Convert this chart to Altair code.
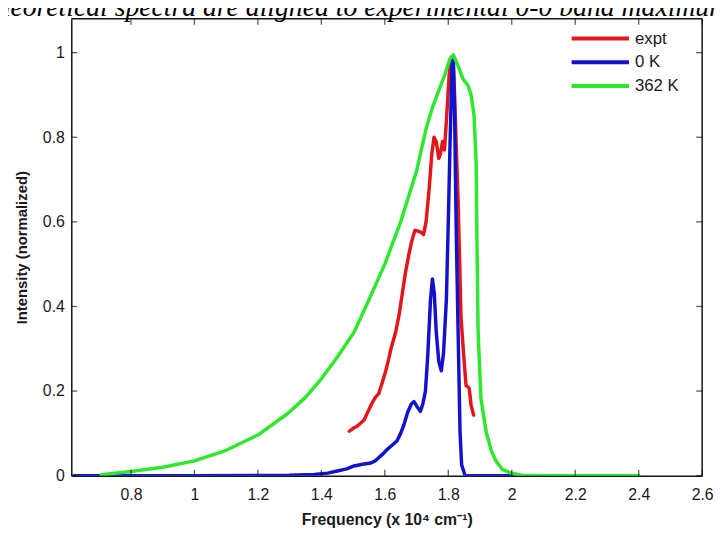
import altair as alt
import pandas as pd

series_names = ["expt", "0 K", "362 K"]
series_colors = ["#e2171c", "#1212cc", "#2de82d"]

expt_x = [1.488, 1.50, 1.513, 1.525, 1.534, 1.545, 1.556, 1.57, 1.581, 1.592, 1.603, 1.612,
          1.619, 1.634, 1.645, 1.655, 1.665, 1.675, 1.685, 1.695, 1.705, 1.715, 1.722, 1.73,
          1.74, 1.748, 1.755, 1.762, 1.77, 1.775, 1.782, 1.788, 1.795, 1.803, 1.81, 1.815,
          1.82, 1.825, 1.831, 1.836, 1.84, 1.848, 1.856, 1.862, 1.866, 1.872, 1.88]
expt_y = [0.105, 0.112, 0.117, 0.125, 0.131, 0.148, 0.166, 0.185, 0.194, 0.22, 0.248, 0.275,
          0.299, 0.339, 0.38, 0.43, 0.48, 0.52, 0.555, 0.58, 0.578, 0.575, 0.57, 0.6,
          0.68, 0.76, 0.8, 0.79, 0.75, 0.76, 0.79, 0.77, 0.85, 0.95, 0.99, 0.98,
          0.9, 0.78, 0.65, 0.5, 0.376, 0.29, 0.213, 0.21, 0.206, 0.166, 0.143]

k0_x = [0.62, 1.0, 1.3, 1.378, 1.42, 1.45, 1.48, 1.503, 1.53, 1.556, 1.57, 1.58, 1.595,
        1.606, 1.62, 1.638, 1.65, 1.66, 1.672, 1.684, 1.692, 1.70, 1.712, 1.72, 1.728,
        1.735, 1.744, 1.75, 1.756, 1.762, 1.77, 1.778, 1.785, 1.79, 1.794, 1.80, 1.806,
        1.812, 1.816, 1.82, 1.825, 1.831, 1.837, 1.842, 1.853, 1.9, 2.0, 2.2, 2.4]
k0_y = [0.0, 0.0, 0.001, 0.003, 0.006, 0.011, 0.016, 0.023, 0.027, 0.03, 0.035, 0.042, 0.052,
        0.061, 0.07, 0.082, 0.1, 0.12, 0.15, 0.17, 0.175, 0.165, 0.152, 0.17, 0.2,
        0.28, 0.416, 0.465, 0.43, 0.34, 0.27, 0.248, 0.29, 0.36, 0.416, 0.6, 0.8,
        0.97, 0.99, 0.85, 0.58, 0.339, 0.105, 0.026, 0.0, 0.0, 0.0, 0.0, 0.0]

k362_x = [0.706, 0.8, 0.9, 1.0, 1.1, 1.2, 1.294, 1.35, 1.4, 1.45, 1.503, 1.55, 1.6, 1.65,
          1.7, 1.73, 1.75, 1.77, 1.79, 1.805, 1.816, 1.83, 1.847, 1.862, 1.872, 1.881,
          1.888, 1.89, 1.894, 1.903, 1.919, 1.935, 1.95, 1.97, 1.994, 2.03, 2.1, 2.4]
k362_y = [0.002, 0.01, 0.02, 0.035, 0.06, 0.096, 0.147, 0.185, 0.229, 0.28, 0.339, 0.416, 0.5, 0.6,
          0.72, 0.82, 0.87, 0.91, 0.95, 0.985, 0.995, 0.97, 0.937, 0.923, 0.90, 0.853,
          0.736, 0.58, 0.339, 0.182, 0.105, 0.06, 0.035, 0.015, 0.007, 0.001, 0.0, 0.0]

x_ticks = [0.8, 1.0, 1.2, 1.4, 1.6, 1.8, 2.0, 2.2, 2.4, 2.6]
y_ticks = [0.0, 0.2, 0.4, 0.6, 0.8, 1.0]
x_domain = [0.612, 2.6]
y_domain = [0.0, 1.08]

title_text = "theoretical spectra are aligned to experimental 0-0 band maximum"
x_title = "Frequency (x 10⁴ cm⁻¹)"
y_title = "Intensity (normalized)"

W, H = 638, 462
FONT = "Liberation Sans"
INK = "#151515"

xs = alt.Scale(domain=x_domain, nice=False, zero=False)
ys = alt.Scale(domain=y_domain, nice=False, zero=False)

x_axis = alt.Axis(values=x_ticks, title=x_title, tickSize=0, domain=True,
                  domainColor=INK, domainWidth=1.5, grid=False,
                  labelFontSize=16, labelFont=FONT, labelColor="#1a1a1a", labelPadding=11,
                  labelFlush=False, labelOverlap=False, format="~g",
                  titleFontSize=16, titleFont=FONT, titleFontWeight="bold",
                  titleColor="#1a1a1a", titlePadding=9)
y_axis = alt.Axis(values=y_ticks, title=y_title, tickSize=0, domain=True,
                  domainColor=INK, domainWidth=1.5, grid=False,
                  labelFontSize=16, labelFont=FONT, labelColor="#1a1a1a", labelPadding=7,
                  labelFlush=False, labelOverlap=False, format="~g",
                  titleFontSize=15, titleFont=FONT, titleFontWeight="bold",
                  titleColor="#1a1a1a", titlePadding=13)


def line_layer(xv, yv, color):
    df = pd.DataFrame({"f": xv, "v": yv, "k": list(range(len(xv)))})
    return alt.Chart(df).mark_line(color=color, strokeWidth=3.5, clip=True,
                                   strokeJoin="round", strokeCap="round").encode(
        x=alt.X("f:Q", scale=xs, axis=x_axis),
        y=alt.Y("v:Q", scale=ys, axis=y_axis),
        order="k:Q",
    )


layers = [
    line_layer(expt_x, expt_y, series_colors[0]),
    line_layer(k0_x, k0_y, series_colors[1]),
    line_layer(k362_x, k362_y, series_colors[2]),
]

# plot box: top and right edges (left/bottom come from the axis domains)
box = pd.DataFrame({"x0": [x_domain[0]], "x1": [x_domain[1]],
                    "y0": [y_domain[0]], "y1": [y_domain[1]]})
layers.append(alt.Chart(box).mark_rule(color=INK, strokeWidth=1.5).encode(
    x=alt.X("x0:Q", scale=xs, axis=x_axis), x2="x1:Q",
    y=alt.Y("y1:Q", scale=ys, axis=y_axis)))
layers.append(alt.Chart(box).mark_rule(color=INK, strokeWidth=1.5).encode(
    x=alt.X("x1:Q", scale=xs, axis=x_axis),
    y=alt.Y("y0:Q", scale=ys, axis=y_axis), y2="y1:Q"))

# inward tick marks on all four sides
xt = pd.DataFrame({"f": x_ticks, "lo": y_domain[0], "hi": y_domain[1]})
yt = pd.DataFrame({"v": y_ticks, "lo": x_domain[0], "hi": x_domain[1]})
layers.append(alt.Chart(xt).mark_tick(color=INK, thickness=1.3, size=6, yOffset=-3,
                                      orient="vertical").encode(
    x=alt.X("f:Q", scale=xs, axis=x_axis), y=alt.Y("lo:Q", scale=ys, axis=y_axis)))
layers.append(alt.Chart(xt).mark_tick(color=INK, thickness=1.3, size=6, yOffset=3,
                                      orient="vertical").encode(
    x=alt.X("f:Q", scale=xs, axis=x_axis), y=alt.Y("hi:Q", scale=ys, axis=y_axis)))
layers.append(alt.Chart(yt).mark_tick(color=INK, thickness=1.3, size=6, xOffset=3,
                                      orient="horizontal").encode(
    y=alt.Y("v:Q", scale=ys, axis=y_axis), x=alt.X("lo:Q", scale=xs, axis=x_axis)))
layers.append(alt.Chart(yt).mark_tick(color=INK, thickness=1.3, size=6, xOffset=-3,
                                      orient="horizontal").encode(
    y=alt.Y("v:Q", scale=ys, axis=y_axis), x=alt.X("hi:Q", scale=xs, axis=x_axis)))

# legend
for i, (name, col) in enumerate(zip(series_names, series_colors)):
    ly = 20 + 24 * i
    layers.append(alt.Chart(pd.DataFrame({"s": [name]})).mark_rule(
        color=col, strokeWidth=4).encode(
        x=alt.value(506), x2=alt.value(564), y=alt.value(ly)))
    layers.append(alt.Chart(pd.DataFrame({"s": [name]})).mark_text(
        align="left", baseline="middle", fontSize=17, font=FONT, color="#1a1a1a").encode(
        x=alt.value(570), y=alt.value(ly), text="s:N"))

# cropped caption text at the very top
layers.append(alt.Chart(pd.DataFrame({"t": [title_text]})).mark_text(
    align="center", baseline="alphabetic", fontSize=28, font="Liberation Serif",
    fontStyle="italic", color="black").encode(
    x=alt.value(291), y=alt.value(-3), text="t:N"))

chart = alt.layer(*layers).properties(
    width=W, height=H,
    background="white",
    autosize=alt.AutoSizeParams(type="none"),
    padding={"left": 64, "top": 8, "right": 14, "bottom": 51},
).configure_view(stroke=None)

chart.save("out.html", embed_options={"renderer": "svg", "actions": False})
